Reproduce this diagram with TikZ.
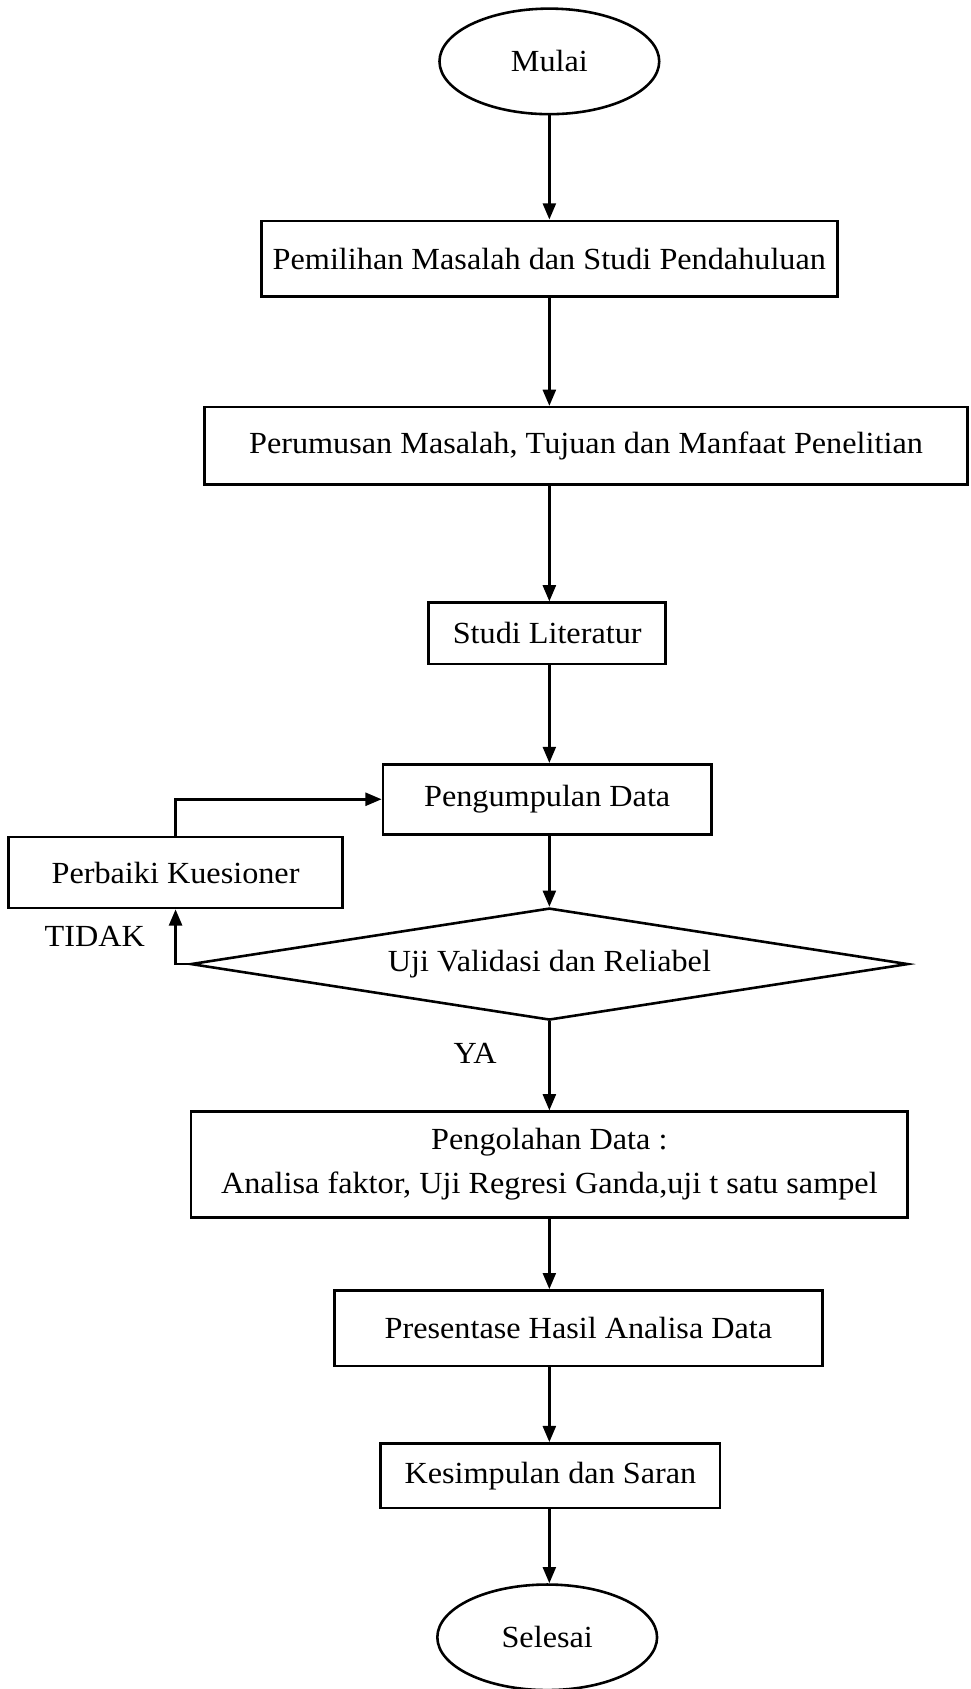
\documentclass[tikz,border=0pt]{standalone}
\usepackage{fontspec}
\setmainfont{Liberation Serif}[FakeStretch=1.05]
\usetikzlibrary{shapes.geometric,arrows.meta}

\begin{document}
\begin{tikzpicture}[x=1pt, y=-1pt, line width=2.4pt,
    >={Triangle[length=15pt,width=12pt]},
    every node/.style={font=\fontsize{28.5}{41}\selectfont},
    box/.style={draw, rectangle, inner sep=0pt, align=center},
    term/.style={draw, ellipse, inner sep=0pt, minimum width=204pt, minimum height=98pt}]
    \useasboundingbox (0,0) rectangle (901,1568);
    \coordinate (spine) at (510,0);
    \node[term] (mulai) at (510,57) {Mulai};
    \node[box, minimum width=535pt, minimum height=70pt] (pilih)  at (510,240)  {Pemilihan Masalah dan Studi Pendahuluan};
    \node[box, minimum width=708pt, minimum height=72pt] (rumus)  at (544,414)  {Perumusan Masalah, Tujuan dan Manfaat Penelitian};
    \node[box, minimum width=220pt, minimum height=57pt] (studi)  at (508,588)  {Studi Literatur};
    \node[box, minimum width=305pt, minimum height=65pt] (kumpul) at (508,742)  {Pengumpulan Data};
    \node[box, minimum width=310pt, minimum height=66pt] (perbaiki) at (163,810) {Perbaiki Kuesioner};
    \node[draw, diamond, aspect=6.4, inner sep=0pt, minimum width=666pt, minimum height=104pt] (uji) at (510,895) {Uji Validasi dan Reliabel};
    \node[box, minimum width=665pt, minimum height=98pt] (olah)   at (510,1081) {Pengolahan Data :\\ Analisa faktor, Uji Regresi Ganda,uji t satu sampel};
    \node[box, minimum width=453pt, minimum height=70pt] (hasil)  at (537,1233) {Presentase Hasil Analisa Data};
    \node[box, minimum width=315pt, minimum height=60pt] (simpul) at (511,1370) {Kesimpulan dan Saran};
    \node[term] (selesai) at (508,1520) {Selesai};
    \node (tidak) at (88,869) {TIDAK};
    \node (ya) at (441,978) {YA};
    \foreach \a/\b in {mulai/pilih, pilih/rumus, rumus/studi, studi/kumpul,
                      kumpul/uji, uji/olah, olah/hasil, hasil/simpul, simpul/selesai}
      \draw[->] (spine |- \a.south) -- (spine |- \b.north);
    \draw[->] (uji.west) -| (perbaiki.south);
    \draw[->] (perbaiki.north) |- (kumpul.west);
\end{tikzpicture}
\end{document}
